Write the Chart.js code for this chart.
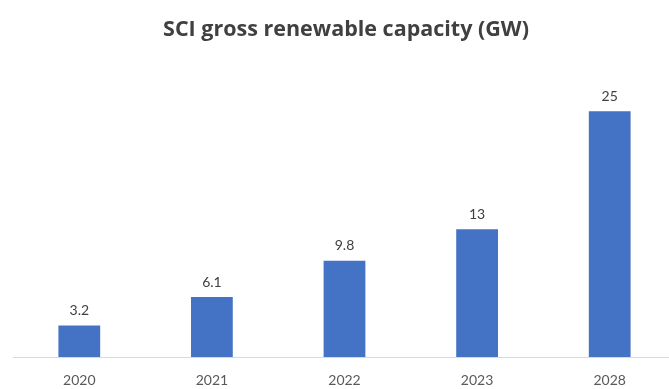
<!DOCTYPE html>
<html>
<head>
<meta charset="utf-8">
<script src="https://cdn.jsdelivr.net/npm/chart.js@4.4.1/dist/chart.umd.min.js"></script>
<style>
  html, body { margin: 0; padding: 0; background: #fff; overflow: hidden; }
  #wrap { width: 676px; height: 389px; }
</style>
</head>
<body>
<div id="wrap"><canvas id="capacity-chart" width="676" height="389"></canvas></div>
<script>
// Gross renewable capacity by year
const years = ['2020', '2021', '2022', '2023', '2028'];
const capacityGW = [3.2, 6.1, 9.8, 13, 25];
const valueLabels = ['3.2', '6.1', '9.8', '13', '25'];
const chartTitle = 'SCI gross renewable capacity (GW)';

// Title and value labels drawn directly on the canvas
const labelsPlugin = {
    id: 'labelsPlugin',
    afterDatasetsDraw(chart) {
        const ctx = chart.ctx;
        ctx.save();
        ctx.fillStyle = '#404040';
        ctx.font = 'bold 21.5px "Open Sans"';
        ctx.textAlign = 'center';
        ctx.textBaseline = 'middle';
        ctx.fillText(chartTitle, 346, 30);

        ctx.font = '14px Lato';
        ctx.fillStyle = '#404040';
        ctx.textBaseline = 'bottom';
        chart.getDatasetMeta(0).data.forEach((bar, i) => {
            ctx.fillText(valueLabels[i], bar.x, bar.y - 8);
        });
        ctx.restore();
    }
};

const ctx = document.getElementById('capacity-chart').getContext('2d');
new Chart(ctx, {
    type: 'bar',
    data: {
        labels: years,
        datasets: [{
            data: capacityGW,
            backgroundColor: '#4472C4',
            borderWidth: 0,
            barPercentage: 0.315,
            categoryPercentage: 1
        }]
    },
    options: {
        responsive: false,
        animation: false,
        layout: { padding: { left: 13, right: 0, top: 62, bottom: 0 } },
        plugins: {
            legend: { display: false },
            title: { display: false },
            tooltip: { enabled: false }
        },
        scales: {
            x: {
                grid: { display: false, drawTicks: false },
                border: { display: true, color: '#D9D9D9', width: 1 },
                ticks: { color: '#595959', font: { family: 'Lato', size: 14 }, padding: 15 },
                afterFit(scale) { scale.height = 32; }
            },
            y: {
                display: false,
                min: 0,
                max: 30
            }
        }
    },
    plugins: [labelsPlugin]
});
</script>
</body>
</html>
